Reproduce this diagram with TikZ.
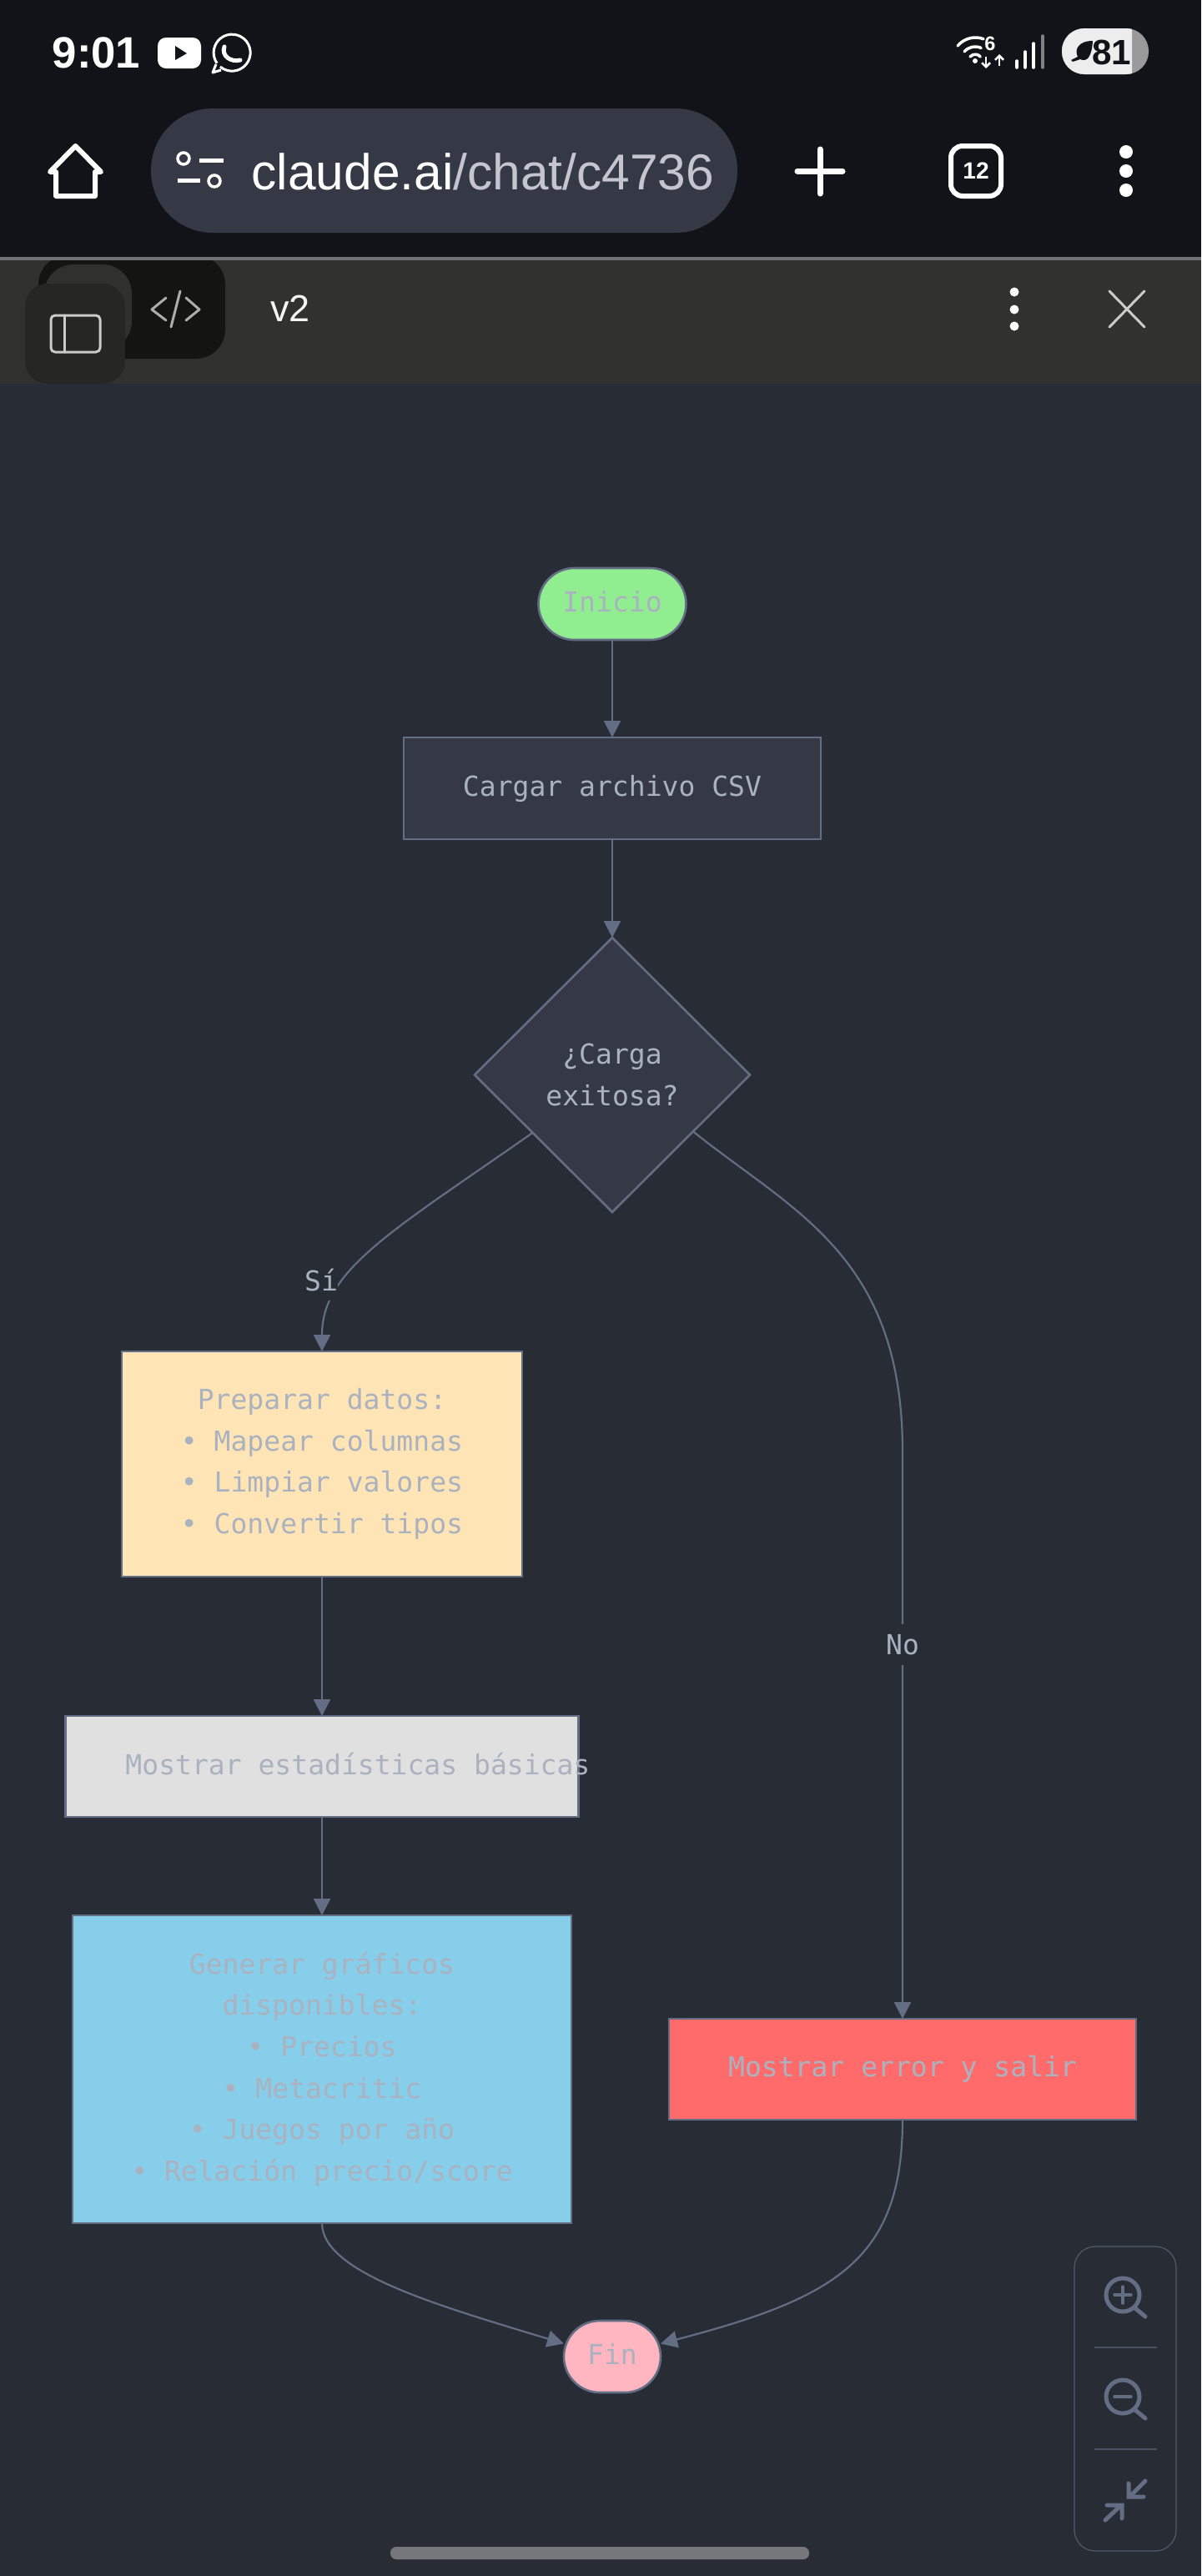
\documentclass[tikz,border=0pt]{standalone}
\usepackage{fontspec}
\usepackage{xcolor}
\usepackage{tikz}
\usetikzlibrary{shapes.geometric, arrows.meta, positioning}
\setmainfont{Liberation Sans}
\setmonofont{DejaVu Sans Mono}

\definecolor{canvasbg}{HTML}{282C34}
\definecolor{topbar}{HTML}{111318}
\definecolor{urlpill}{HTML}{353945}
\definecolor{urlgray}{HTML}{C4C5CF}
\definecolor{headbar}{HTML}{31312F}
\definecolor{tabdark}{HTML}{141412}
\definecolor{tabmid}{HTML}{30302E}
\definecolor{sidebtn}{HTML}{262624}
\definecolor{boxfill}{HTML}{353945}
\definecolor{edgecol}{HTML}{636D83}
\definecolor{txtgray}{HTML}{ABB2BF}
\definecolor{inicfill}{HTML}{90EE90}
\definecolor{prepfill}{HTML}{FFE4B5}
\definecolor{statfill}{HTML}{E0E0E0}
\definecolor{graffill}{HTML}{87CEEB}
\definecolor{errfill}{HTML}{FF6B6B}
\definecolor{finfill}{HTML}{FFB6C1}
\definecolor{homebar}{HTML}{76777B}

\begin{document}
\begin{tikzpicture}[
    flow/.style={rectangle, draw=edgecol, line width=0.026cm, outer sep=0pt, inner sep=0pt, align=center, text=txtgray, font=\ttfamily\fontsize{9.4}{14.1}\selectfont},
    term/.style={flow, rounded corners=0.43cm, minimum height=0.86cm, text depth=0.07cm},
    proc/.style={flow, minimum width=5cm},
    decide/.style={flow, diamond, fill=boxfill, minimum width=3.3cm, minimum height=3.29cm},
    arr/.style={-{Triangle[length=0.2cm, width=0.2cm]}, line width=0.022cm, color=edgecol},
    edgelabel/.style={fill=canvasbg, text=txtgray, inner sep=0pt, minimum height=0.49cm, font=\ttfamily\fontsize{9.4}{14.1}\selectfont},
    icon/.style={draw=white, line width=0.06cm, line cap=round, line join=round},
    zoomicon/.style={draw=edgecol, line width=0.05cm, line cap=round, line join=miter},
    headicon/.style={line width=0.03cm, line cap=round, line join=round}
]

% Screen bands
\fill[canvasbg] (0,0) rectangle (14.40,-30.88);
\fill[topbar] (0,0) rectangle (14.40,-3.08);
\fill[gray!80!urlpill] (0,-3.08) rectangle (14.40,-3.12);
\fill[headbar] (0,-3.12) rectangle (14.40,-4.60);

% Status bar
\node[anchor=base west, inner sep=0pt, text=white, font=\bfseries\fontsize{15}{15}\selectfont] (clock) at (0.62,-0.81) {9:01};
\fill[white, rounded corners=0.1cm] (1.89,-0.45) rectangle (2.41,-0.82);
\fill[topbar] (2.10,-0.55) -- (2.24,-0.64) -- (2.10,-0.72) -- cycle;
\draw[white, line width=0.03cm, line join=round] (2.64,-0.80) arc[start angle=-130, end angle=215, radius=0.22] (2.59,-0.77) -- (2.55,-0.87) -- (2.65,-0.84);
\draw[white, line width=0.05cm, line cap=round] (2.69,-0.56) .. controls (2.65,-0.67) and (2.77,-0.75) .. (2.88,-0.72);

\draw[icon, line width=0.035cm] (11.48,-0.55) arc[start angle=140, end angle=70, radius=0.28];
\draw[icon, line width=0.035cm] (11.56,-0.62) arc[start angle=140, end angle=65, radius=0.17];
\draw[icon, line width=0.035cm] (11.63,-0.68) arc[start angle=140, end angle=40, radius=0.08];
\fill[white] (11.69,-0.73) circle[radius=0.03];
\node[inner sep=0pt, text=white, font=\bfseries\fontsize{6.7}{6.7}\selectfont] (wifisix) at (11.87,-0.52) {6};
\draw[white, line width=0.025cm, -{Straight Barb[length=0.05cm, width=0.1cm]}] (11.82,-0.68) -- (11.82,-0.82);
\draw[white, line width=0.025cm, -{Straight Barb[length=0.05cm, width=0.1cm]}] (11.98,-0.79) -- (11.98,-0.65);
\foreach \xpos/\ytop in {12.19/0.73, 12.29/0.62, 12.39/0.52}
    \draw[white, line width=0.035cm, line cap=round] (\xpos,-0.81) -- (\xpos,-\ytop);
\draw[gray, line width=0.035cm, line cap=round] (12.50,-0.81) -- (12.50,-0.43);
\fill[gray!80!white, rounded corners=0.27cm] (12.73,-0.34) rectangle (13.77,-0.89);
\begin{scope}
    \clip (12.73,-0.34) rectangle (13.57,-0.89);
    \fill[white!93!black, rounded corners=0.27cm] (12.73,-0.34) rectangle (13.77,-0.89);
\end{scope}
\fill[topbar] (13.10,-0.49) .. controls (12.92,-0.49) and (12.88,-0.60) .. (12.92,-0.68) -- (12.84,-0.72) -- (12.86,-0.74) -- (12.95,-0.71) .. controls (13.03,-0.75) and (13.09,-0.68) .. cycle;
\node[anchor=base east, inner sep=0pt, text=topbar, font=\bfseries\fontsize{12}{12}\selectfont] (batlevel) at (13.57,-0.77) {81};

% Address bar
\draw[icon] (0.67,-2.35) -- (0.67,-2.06) -- (0.60,-2.06) -- (0.905,-1.75) -- (1.21,-2.06) -- (1.14,-2.06) -- (1.14,-2.35) -- cycle;
\fill[urlpill, rounded corners=0.74cm] (1.81,-1.30) rectangle (8.84,-2.79);
\draw[white, line width=0.035cm] (2.20,-1.90) circle[radius=0.07] (2.57,-2.17) circle[radius=0.07];
\draw[white, line width=0.05cm] (2.39,-1.92) -- (2.68,-1.92) (2.13,-2.16) -- (2.40,-2.16);
\node[anchor=base west, inner sep=0pt, text=white, font=\fontsize{17.2}{17.2}\selectfont] (url) at (3.01,-2.27) {claude.ai\textcolor{urlgray}{/chat/c4736}};
\draw[white, line width=0.07cm, line cap=round] (9.56,-2.05) -- (10.10,-2.05) (9.83,-1.79) -- (9.83,-2.32);
\draw[white, line width=0.06cm, rounded corners=0.14cm] (11.40,-1.75) rectangle (12.00,-2.35);
\node[inner sep=0pt, text=white, font=\bfseries\fontsize{8}{8}\selectfont] (tabcount) at (11.70,-2.05) {12};
\foreach \ypos in {1.82, 2.05, 2.28}
    \fill[white] (13.50,-\ypos) circle[radius=0.08];

% Artifact header
\fill[tabdark, rounded corners=0.35cm] (0.46,-3.06) rectangle (2.70,-4.30);
\fill[topbar] (0.40,-3.00) rectangle (2.80,-3.08);
\fill[gray!80!urlpill] (0.40,-3.08) rectangle (2.80,-3.12);
\fill[tabmid, rounded corners=0.35cm] (0.53,-3.17) rectangle (1.58,-4.20);
\fill[sidebtn, rounded corners=0.27cm] (0.30,-3.40) rectangle (1.50,-4.60);
\draw[headicon, draw=white!75!headbar, rounded corners=0.05cm] (0.61,-3.78) rectangle (1.20,-4.22);
\draw[headicon, draw=white!75!headbar] (0.77,-3.78) -- (0.77,-4.22);
\draw[headicon, draw=white!60!headbar] (1.99,-3.57) -- (1.82,-3.71) -- (1.99,-3.84);
\draw[headicon, draw=white!60!headbar] (2.16,-3.49) -- (2.05,-3.92);
\draw[headicon, draw=white!60!headbar] (2.23,-3.57) -- (2.39,-3.71) -- (2.23,-3.84);
\node[inner sep=0pt, text=white!95!headbar, font=\fontsize{12.8}{12.8}\selectfont] (vertag) at (3.48,-3.70) {v2};
\foreach \ypos in {3.50, 3.71, 3.91}
    \fill[white] (12.16,-\ypos) circle[radius=0.055];
\draw[headicon, draw=white!75!headbar] (13.30,-3.49) -- (13.72,-3.92) (13.72,-3.49) -- (13.30,-3.92);

% Nodes
\node[term, fill=inicfill, minimum width=1.77cm] (inicio) at (7.34,-7.24) {Inicio};
\node[proc, fill=boxfill, minimum height=1.22cm, below=1.17cm of inicio] (carga) {Cargar archivo CSV};
\node[decide, below=1.18cm of carga] (exito) {¿Carga\\exitosa?};
\node[proc, fill=prepfill, minimum width=4.80cm, minimum height=2.70cm, below=1.67cm of exito, xshift=-3.48cm] (prep) {Preparar datos:\\• Mapear columnas\\• Limpiar valores\\• Convertir tipos};
\node[proc, fill=statfill, minimum width=6.15cm, minimum height=1.21cm, text depth=0.07cm, below=1.67cm of prep] (stats) {\makebox[6.15cm][l]{\hspace{0.72cm}Mostrar estadísticas básicas}};
\node[proc, fill=graffill, minimum width=5.98cm, minimum height=3.69cm, below=1.18cm of stats] (graf) {Generar gráficos\\disponibles:\\• Precios\\• Metacritic\\• Juegos por año\\• Relación precio/score};
\node[proc, fill=errfill, minimum width=5.60cm, minimum height=1.21cm, right=1.17cm of graf] (fallo) {Mostrar error y salir};
\node[term, fill=finfill, minimum width=1.16cm, below=1.17cm of graf, xshift=3.48cm] (fin) {Fin};

% Transitions
\draw[arr] (inicio) -- (carga);
\draw[arr] (carga) -- (exito);
\draw[arr] (exito.216) .. controls (4.70,-14.76) and (3.86,-15.22) .. (prep.north);
\node[edgelabel] (si) at (3.85,-15.34) {Sí};
\draw[arr] (exito.-35) .. controls (9.50,-14.52) and (10.82,-15.05) .. (10.82,-17.40) -- (fallo.north) node[pos=0.34, edgelabel] (no) {No};
\draw[arr] (prep) -- (stats);
\draw[arr] (stats) -- (graf);
\draw[arr] (graf.south) .. controls (3.86,-27.25) and (5.30,-27.65) .. (fin.165);
\draw[arr] (fallo.south) .. controls (10.82,-27.10) and (10.00,-27.55) .. (fin.15);

% Zoom controls
\draw[draw=edgecol!70!canvasbg, line width=0.012cm, rounded corners=0.25cm] (12.88,-26.93) rectangle (14.10,-30.58);
\draw[draw=edgecol!60!canvasbg, line width=0.012cm] (13.12,-28.14) -- (13.87,-28.14) (13.12,-29.36) -- (13.87,-29.36);
\draw[zoomicon] (13.46,-27.51) circle[radius=0.2] (13.61,-27.67) -- (13.73,-27.77);
\draw[zoomicon, line width=0.035cm] (13.36,-27.51) -- (13.56,-27.51) (13.46,-27.41) -- (13.46,-27.61);
\draw[zoomicon] (13.46,-28.73) circle[radius=0.2] (13.61,-28.89) -- (13.73,-28.99);
\draw[zoomicon, line width=0.035cm] (13.36,-28.73) -- (13.56,-28.73);
\draw[zoomicon] (13.73,-29.74) -- (13.54,-29.93) (13.53,-29.77) -- (13.53,-29.93) -- (13.71,-29.93);
\draw[zoomicon] (13.25,-30.21) -- (13.44,-30.03) (13.27,-30.03) -- (13.45,-30.03) -- (13.45,-30.19);

% Home bar
\fill[homebar, rounded corners=0.07cm] (4.68,-30.53) rectangle (9.70,-30.68);

\end{tikzpicture}
\end{document}
